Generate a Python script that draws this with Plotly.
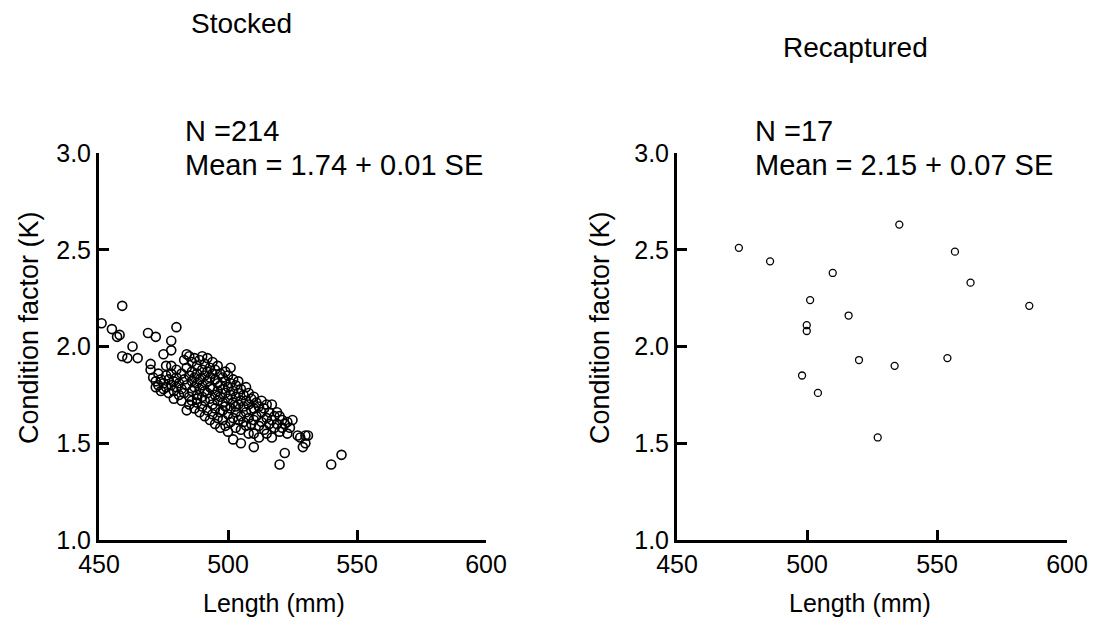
import plotly.graph_objects as go

# ---- data ----
stocked_length = [451, 455, 457, 458, 459, 459, 461, 463, 465, 469, 470, 470, 472, 475, 476, 478, 478, 478, 480, 479,
                  471, 472, 472, 473, 473, 474, 474, 475, 475, 476, 476, 477, 477,
                  478, 478, 479, 479, 480, 480, 480, 481, 481, 482, 482, 482, 483, 483, 483, 484, 484, 484, 484, 485, 485, 485, 485,
                  486, 486, 486, 486, 486, 487, 487, 487, 487, 488, 488, 488, 488, 488, 489, 489, 489, 489, 490, 490, 490, 490, 490,
                  491, 491, 491, 491, 491, 492, 492, 492, 492, 492, 493, 493, 493, 493, 493, 494, 494, 494, 494, 494, 495, 495, 495, 495, 495,
                  496, 496, 496, 496, 496, 497, 497, 497, 497, 497, 498, 498, 498, 498, 499, 499, 499, 499, 499, 500, 500, 500, 500, 500,
                  501, 501, 501, 501, 501, 502, 502, 502, 502, 502, 503, 503, 503, 503, 504, 504, 504, 504, 505, 505, 505, 505, 505,
                  506, 506, 506, 507, 507, 507, 507, 508, 508, 508, 508, 509, 509, 509, 510, 510, 510, 510, 510,
                  511, 511, 512, 512, 512, 513, 513, 513, 514, 514, 515, 515, 515,
                  516, 516, 517, 517, 517, 518, 518, 519, 519, 520, 520, 520, 521, 521, 522, 522, 523, 523,
                  524, 525, 527, 528, 529, 530, 530, 531, 540, 544, 498, 503, 488]
stocked_k = [2.12, 2.09, 2.05, 2.06, 2.21, 1.95, 1.94, 2.00, 1.94, 2.07, 1.91, 1.88, 2.05, 1.96, 1.90, 1.98, 2.03, 1.90, 2.10, 1.73,
             1.84, 1.82, 1.79, 1.86, 1.80, 1.83, 1.77, 1.81, 1.78, 1.85, 1.79, 1.83, 1.76,
             1.86, 1.80, 1.82, 1.77, 1.88, 1.84, 1.79, 1.75, 1.81, 1.86, 1.78, 1.72, 1.93, 1.83, 1.76, 1.96, 1.89, 1.80, 1.67, 1.95, 1.85, 1.74, 1.70,
             1.92, 1.87, 1.82, 1.77, 1.72, 1.94, 1.84, 1.79, 1.68, 1.90, 1.86, 1.81, 1.75, 1.71, 1.93, 1.83, 1.78, 1.66, 1.95, 1.88, 1.80, 1.74, 1.69,
             1.91, 1.85, 1.77, 1.72, 1.64, 1.94, 1.87, 1.82, 1.76, 1.67, 1.89, 1.84, 1.79, 1.73, 1.62, 1.92, 1.86, 1.78, 1.70, 1.65, 1.88, 1.83, 1.75, 1.68, 1.60,
             1.90, 1.81, 1.77, 1.72, 1.63, 1.86, 1.80, 1.74, 1.66, 1.58, 1.84, 1.78, 1.71, 1.62, 1.87, 1.82, 1.76, 1.69, 1.59, 1.85, 1.79, 1.73, 1.65, 1.56,
             1.89, 1.81, 1.75, 1.68, 1.61, 1.83, 1.77, 1.71, 1.63, 1.52, 1.80, 1.74, 1.66, 1.58, 1.82, 1.76, 1.70, 1.62, 1.78, 1.72, 1.64, 1.50, 1.57,
             1.75, 1.69, 1.61, 1.79, 1.72, 1.66, 1.59, 1.76, 1.70, 1.63, 1.55, 1.73, 1.67, 1.60, 1.74, 1.68, 1.62, 1.48, 1.55,
             1.71, 1.64, 1.69, 1.59, 1.53, 1.72, 1.66, 1.61, 1.68, 1.57, 1.70, 1.63, 1.55,
             1.66, 1.60, 1.70, 1.62, 1.53, 1.64, 1.58, 1.66, 1.60, 1.64, 1.56, 1.39, 1.62, 1.58, 1.60, 1.45, 1.61, 1.55,
             1.58, 1.62, 1.54, 1.53, 1.48, 1.54, 1.50, 1.54, 1.39, 1.44, 1.67, 1.69, 1.73]

recap_length = [473.8, 485.8, 509.9, 535.5, 556.9, 562.9, 585.5, 501.2, 516.0, 499.9, 499.9, 520.0, 533.7, 554.0, 498.1, 504.2, 527.2]
recap_k = [2.51, 2.44, 2.38, 2.63, 2.49, 2.33, 2.21, 2.24, 2.16, 2.11, 2.08, 1.93, 1.90, 1.94, 1.85, 1.76, 1.53]

x_ticks = [450, 500, 550, 600]
y_ticks = [1.0, 1.5, 2.0, 2.5, 3.0]
panel_titles = ["Stocked", "Recaptured"]
panel_stats = [["N =214", "Mean = 1.74 + 0.01 SE"], ["N =17", "Mean = 2.15 + 0.07 SE"]]
x_label = "Length (mm)"
y_label = "Condition factor (K)"

W, H = 1097, 627
FONT = "Liberation Sans, Arial, Helvetica, sans-serif"


def px(x):
    return x / W


def py(y):
    return 1 - y / H


def axis(domain, rng, vals, anchor, fmt=None):
    d = dict(domain=domain, range=rng, tickvals=vals, showline=True, linewidth=3, linecolor="black",
             ticks="inside", ticklen=10, tickwidth=3, tickcolor="black", showgrid=False, zeroline=False,
             anchor=anchor, layer="above traces", tickfont=dict(family=FONT, size=25, color="black"))
    if fmt:
        d["tickformat"] = fmt
    return d


fig = go.Figure()
fig.add_trace(go.Scatter(x=stocked_length, y=stocked_k, mode="markers", xaxis="x", yaxis="y",
                         marker=dict(symbol="circle-open", size=9, color="black", line=dict(width=1.6, color="black"))))
fig.add_trace(go.Scatter(x=recap_length, y=recap_k, mode="markers", xaxis="x2", yaxis="y2",
                         marker=dict(symbol="circle-open", size=7, color="black", line=dict(width=1.3, color="black"))))

ydom = [py(540), py(153)]
fig.update_layout(
    xaxis=axis([px(99), px(486)], [450, 600], x_ticks, "y"),
    yaxis=axis(ydom, [1.0, 3.0], y_ticks, "x", ".1f"),
    xaxis2=axis([px(677), px(1067)], [450, 600], x_ticks, "y2"),
    yaxis2=axis(ydom, [1.0, 3.0], y_ticks, "x2", ".1f"),
    width=W, height=H, margin=dict(l=0, r=0, t=0, b=0, autoexpand=False),
    plot_bgcolor="rgba(0,0,0,0)", paper_bgcolor="white", showlegend=False,
)

title_pos = [(241, 24), (855, 48)]
stat_x = [183, 753]
ylab_x = [29, 600]
xlab_x = [274, 860]
for i in range(2):
    fig.add_annotation(text=panel_titles[i], x=px(title_pos[i][0]), y=py(title_pos[i][1]), xref="paper", yref="paper",
                       showarrow=False, xanchor="center", yanchor="middle", font=dict(family=FONT, size=28, color="black"))
    fig.add_annotation(text=panel_stats[i][0], x=px(stat_x[i]), y=py(131), xref="paper", yref="paper",
                       showarrow=False, xanchor="left", yanchor="middle", font=dict(family=FONT, size=29, color="black"))
    fig.add_annotation(text=panel_stats[i][1], x=px(stat_x[i]), y=py(165), xref="paper", yref="paper",
                       showarrow=False, xanchor="left", yanchor="middle", font=dict(family=FONT, size=29, color="black"))
    fig.add_annotation(text=y_label, x=px(ylab_x[i]), y=py(328), xref="paper", yref="paper", textangle=-90,
                       showarrow=False, xanchor="center", yanchor="middle", font=dict(family=FONT, size=27, color="black"))
    fig.add_annotation(text=x_label, x=px(xlab_x[i]), y=py(603), xref="paper", yref="paper",
                       showarrow=False, xanchor="center", yanchor="middle", font=dict(family=FONT, size=25, color="black"))

fig.write_html("out.html")
